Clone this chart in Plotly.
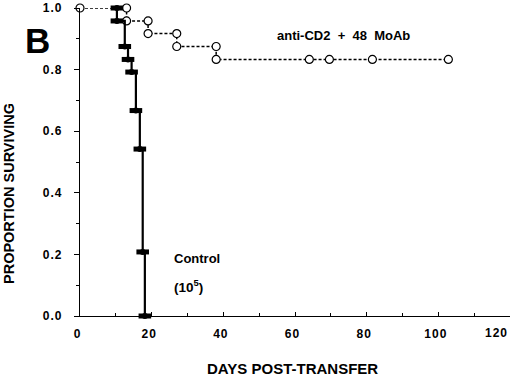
import plotly.graph_objects as go

# Control group (Kaplan-Meier steps)
ctrl_days = [10.3, 10.3, 12.5, 13.4, 14.4, 15.6, 16.7, 17.5, 18.1]
ctrl_surv = [1.0, 0.958, 0.875, 0.833, 0.792, 0.667, 0.542, 0.208, 0.0]

# anti-CD2 + 48 MoAb group
anti_days = [0, 13, 13, 19, 19, 27, 27, 38, 38, 64, 69.6, 81.6, 102.8]
anti_surv = [1.0, 1.0, 0.958, 0.958, 0.917, 0.917, 0.875, 0.875, 0.833, 0.833, 0.833, 0.833, 0.833]

H = "\u200a"
x_ticks = [0, 20, 40, 60, 80, 100, 120]
x_ticklabels = ["0", "2" + H + "0", "4" + H + "0", "6" + H + "0", "8" + H + "0",
                "1" + H + "0" + H + "0", "1" + H + "2" + H + "0"]
y_ticks = [0.0, 0.2, 0.4, 0.6, 0.8, 1.0]
y_ticktext = ["0" + H + "." + H + "0", "0" + H + "." + H + "2", "0" + H + "." + H + "4",
              "0" + H + "." + H + "6", "0" + H + "." + H + "8", "1" + H + "." + H + "0"]

FONT = "Liberation Sans, Arial, sans-serif"

# last x label (at the right edge) is drawn right-aligned so it stays inside the figure
x_ticktext = x_ticklabels[:-1] + [""]

fig = go.Figure()

fig.add_trace(go.Scatter(
    x=anti_days, y=anti_surv, mode="lines+markers", line_shape="hv",
    line=dict(color="black", width=1.5, dash="3px,2px"),
    marker=dict(symbol="circle", size=8, color="white", line=dict(color="black", width=1.2)),
    cliponaxis=False, showlegend=False))

fig.add_trace(go.Scatter(
    x=ctrl_days, y=ctrl_surv, mode="lines", line_shape="hv",
    line=dict(color="black", width=2.2),
    cliponaxis=False, showlegend=False))
fig.add_trace(go.Scatter(
    x=ctrl_days, y=ctrl_surv, mode="markers",
    marker=dict(symbol="line-ew", size=9, line=dict(color="black", width=5)),
    cliponaxis=False, showlegend=False))
fig.add_trace(go.Scatter(
    x=ctrl_days, y=ctrl_surv, mode="markers",
    marker=dict(symbol="circle", size=6, color="black"),
    cliponaxis=False, showlegend=False))

fig.update_layout(
    template="none",
    width=520, height=381,
    margin=dict(l=80, r=10, t=8, b=65, autoexpand=False),
    paper_bgcolor="white", plot_bgcolor="white",
    font=dict(family=FONT, color="black"),
    xaxis=dict(range=[0, 120], tickvals=x_ticks, ticktext=x_ticktext, automargin=False,
               showgrid=False, zeroline=False, showline=True, linecolor="black", linewidth=1.2,
               ticks="inside", ticklen=4, tickcolor="black",
               minor=dict(dtick=10, ticks="inside", ticklen=3, tickcolor="black", showgrid=False),
               tickfont=dict(size=12, family=FONT, weight="bold"),
               ticklabelstandoff=6, ticklabelshift=-3),
    yaxis=dict(range=[0, 1.0], tickvals=y_ticks, ticktext=y_ticktext, automargin=False,
               showgrid=False, zeroline=False, showline=True, linecolor="black", linewidth=1.2,
               ticks="outside", ticklen=5, tickcolor="black",
               minor=dict(dtick=0.1, ticks="outside", ticklen=3, tickcolor="black", showgrid=False),
               tickfont=dict(size=12, family=FONT, weight="bold"),
               ticklabelstandoff=10, ticklabeloverflow="allow"),
    annotations=[
        dict(text="<b>" + x_ticklabels[-1] + "</b>", xref="x", yref="paper", x=x_ticks[-1],
             y=-(333 - 316) / 308, xshift=-1, showarrow=False, font=dict(size=12, family=FONT),
             xanchor="right", yanchor="middle"),
        dict(text="<b>B</b>", xref="paper", yref="paper", x=(37.5 - 80) / 430, y=(308 - (40.5 - 8)) / 308,
             showarrow=False, font=dict(size=35, family=FONT), xanchor="center", yanchor="middle"),
        dict(text="<b>anti-CD2  +  48  MoAb</b>", xref="x", yref="y", x=54.4, y=0.911,
             showarrow=False, font=dict(size=13, family=FONT), xanchor="left", yanchor="middle"),
        dict(text="<b>Control</b>", xref="x", yref="y", x=25.7, y=0.187,
             showarrow=False, font=dict(size=13, family=FONT), xanchor="left", yanchor="middle"),
        dict(text="<b>(10<sup>5</sup>)</b>", xref="x", yref="y", x=25.7, y=0.097,
             showarrow=False, font=dict(size=13.5, family=FONT), xanchor="left", yanchor="middle"),
        dict(text="<b>DAYS POST-TRANSFER</b>", xref="paper", yref="paper", x=(292 - 80) / 430,
             y=-(368 - 316) / 308, showarrow=False, font=dict(size=15, family=FONT),
             xanchor="center", yanchor="middle"),
        dict(text="<b>PROPORTION SURVIVING</b>", xref="paper", yref="paper", x=(9 - 80) / 430,
             y=(316 - 194) / 308, showarrow=False, font=dict(size=14.5, family=FONT),
             textangle=-90, xanchor="center", yanchor="middle"),
    ],
)

fig.write_html("out.html", config={"displayModeBar": False},
               post_script="document.body.style.margin='0';")
